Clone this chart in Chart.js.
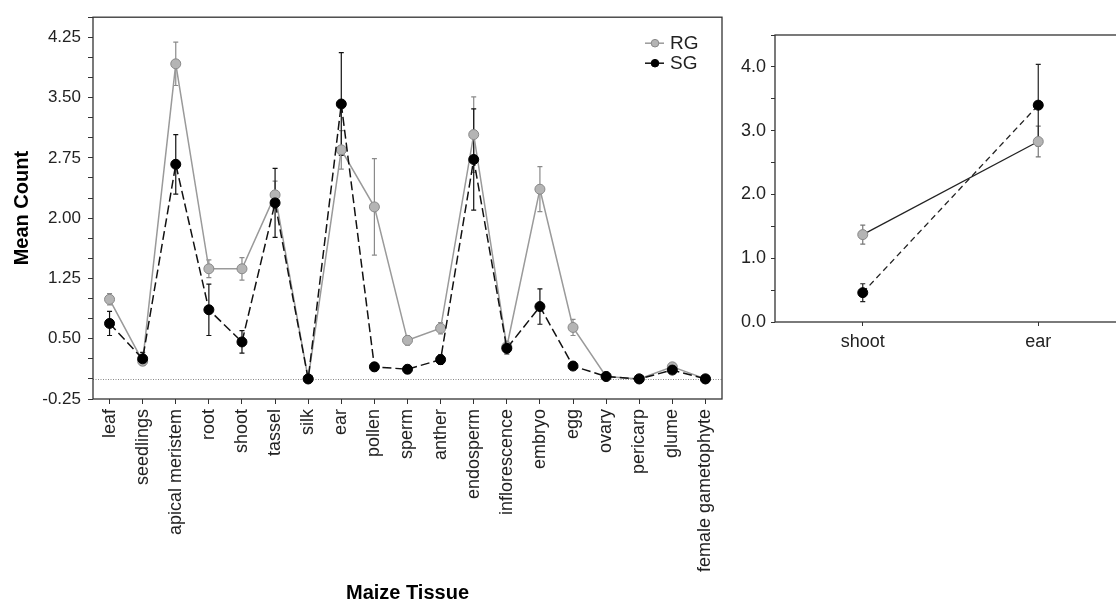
<!DOCTYPE html>
<html>
<head>
<meta charset="utf-8">
<script src="https://cdn.jsdelivr.net/npm/chart.js@4"></script>
<style>
  html, body { margin: 0; padding: 0; background: #fff; overflow: hidden; }
  body { width: 1116px; height: 605px; position: relative; }
  #main { position: absolute; left: 0; top: 0; }
  #inset { position: absolute; left: 735px; top: 0; }
</style>
</head>
<body>
<canvas id="main" width="740" height="605"></canvas>
<canvas id="inset" width="400" height="360"></canvas>
<script>
var tissues = ['leaf', 'seedlings', 'apical meristem', 'root', 'shoot', 'tassel', 'silk', 'ear', 'pollen', 'sperm',
  'anther', 'endosperm', 'inflorescence', 'embryo', 'egg', 'ovary', 'pericarp', 'glume', 'female gametophyte'];
var rgMean = [0.99, 0.22, 3.92, 1.37, 1.37, 2.29, 0.00, 2.85, 2.14, 0.48, 0.63, 3.04, 0.40, 2.36, 0.64, 0.03, 0.00, 0.15, 0.00];
var rgErr  = [0.07, 0.05, 0.27, 0.11, 0.14, 0.17, 0.00, 0.24, 0.60, 0.06, 0.07, 0.47, 0.07, 0.28, 0.10, 0.01, 0.00, 0.02, 0.00];
var sgMean = [0.69, 0.25, 2.67, 0.86, 0.46, 2.19, 0.00, 3.42, 0.15, 0.12, 0.24, 2.73, 0.38, 0.90, 0.16, 0.03, 0.00, 0.11, 0.00];
var sgErr  = [0.15, 0.08, 0.37, 0.32, 0.14, 0.43, 0.00, 0.64, 0.05, 0.05, 0.06, 0.63, 0.07, 0.22, 0.03, 0.01, 0.00, 0.03, 0.00];

var insetCats = ['shoot', 'ear'];
var insetRg = [1.37, 2.83];
var insetRgErr = [0.15, 0.24];
var insetSg = [0.46, 3.40];
var insetSgErr = [0.14, 0.64];

var FONT = "'Liberation Sans', Arial, sans-serif";
Chart.defaults.font.family = FONT;
Chart.defaults.color = '#222';

// error bars from dataset.errors, drawn under the markers
var errorBars = {
  id: 'errorBars',
  beforeDatasetsDraw: function(chart) {
    var ctx = chart.ctx, y = chart.scales.y;
    chart.data.datasets.forEach(function(ds, i) {
      var meta = chart.getDatasetMeta(i);
      ctx.save();
      ctx.strokeStyle = ds.errColor;
      ctx.lineWidth = 1.2;
      meta.data.forEach(function(pt, j) {
        var e = ds.errors[j];
        if (!e) return;
        var top = y.getPixelForValue(ds.data[j] + e);
        var bot = y.getPixelForValue(ds.data[j] - e);
        ctx.beginPath();
        ctx.moveTo(pt.x, top); ctx.lineTo(pt.x, bot);
        ctx.moveTo(pt.x - 2.5, top); ctx.lineTo(pt.x + 2.5, top);
        ctx.moveTo(pt.x - 2.5, bot); ctx.lineTo(pt.x + 2.5, bot);
        ctx.stroke();
      });
      ctx.restore();
    });
  }
};

// frame around the plot + optional dotted zero line
var frame = {
  id: 'frame',
  beforeDatasetsDraw: function(chart, args, opts) {
    var ctx = chart.ctx, a = chart.chartArea;
    ctx.save();
    if (opts.zeroLine) {
      var y0 = Math.round(chart.scales.y.getPixelForValue(0)) + 0.5;
      ctx.strokeStyle = '#888';
      ctx.setLineDash([1, 1.5]);
      ctx.lineWidth = 1;
      ctx.beginPath(); ctx.moveTo(a.left, y0); ctx.lineTo(a.right, y0); ctx.stroke();
      ctx.setLineDash([]);
    }
    ctx.strokeStyle = '#333';
    ctx.lineWidth = 1.3;
    ctx.strokeRect(a.left, a.top, a.right - a.left, a.bottom - a.top);
    ctx.restore();
  }
};

// small line+marker legend in the upper right of the plot
var lineLegend = {
  id: 'lineLegend',
  afterDatasetsDraw: function(chart, args, opts) {
    if (!opts.show) return;
    var ctx = chart.ctx, a = chart.chartArea;
    var x0 = a.right - 77, yy = a.top + 32 - 0;
    yy = a.top + 32 - 6;
    chart.data.datasets.slice().sort(function(p, q) { return q.order - p.order; }).forEach(function(ds) {
      ctx.save();
      ctx.strokeStyle = ds.borderColor;
      ctx.lineWidth = 1.5;
      ctx.beginPath(); ctx.moveTo(x0, yy); ctx.lineTo(x0 + 19, yy); ctx.stroke();
      ctx.beginPath(); ctx.arc(x0 + 10, yy, 3.8, 0, Math.PI * 2);
      ctx.fillStyle = ds.pointBackgroundColor; ctx.fill();
      ctx.strokeStyle = ds.pointBorderColor; ctx.lineWidth = 1; ctx.stroke();
      ctx.fillStyle = '#222';
      ctx.font = '19px ' + FONT;
      ctx.textBaseline = 'middle';
      ctx.fillText(ds.label, x0 + 25, yy + 1);
      ctx.restore();
      yy += 20;
    });
  }
};

function series(label, data, errs, opts) {
  return Object.assign({
    label: label, data: data, errors: errs,
    pointRadius: 5, pointBorderWidth: 1, borderWidth: 1.5,
    tension: 0, fill: false
  }, opts);
}

new Chart(document.getElementById('main'), {
  type: 'line',
  data: {
    labels: tissues,
    datasets: [
      series('RG', rgMean, rgErr, {
        borderColor: '#9a9a9a', pointBackgroundColor: '#b4b4b4', pointBorderColor: '#888',
        errColor: '#8a8a8a', order: 1
      }),
      series('SG', sgMean, sgErr, {
        borderColor: '#111', borderDash: [9, 4], pointBackgroundColor: '#000', pointBorderColor: '#000',
        errColor: '#111', order: 0
      })
    ]
  },
  options: {
    responsive: false,
    animation: false,
    layout: { padding: { top: 11, right: 18, left: 0, bottom: 0 } },
    plugins: {
      legend: { display: false },
      tooltip: { enabled: false },
      frame: { zeroLine: true },
      lineLegend: { show: true }
    },
    scales: {
      x: {
        offset: true,
        grid: { offset: false, drawOnChartArea: false, drawTicks: true, tickLength: 5, tickColor: '#333' },
        border: { display: false },
        ticks: { minRotation: 90, maxRotation: 90, autoSkip: false, padding: 5, font: { size: 18 }, color: '#222' },
        title: { display: true, text: 'Maize Tissue', font: { size: 20, weight: 'bold' }, color: '#000', padding: { top: 0, bottom: 0 } },
        afterFit: function(s) { s.height = 206; }
      },
      y: {
        min: -0.25, max: 4.5,
        grid: { drawOnChartArea: false, drawTicks: true, tickLength: 5, tickColor: '#333' },
        border: { display: false },
        ticks: {
          stepSize: 0.25, autoSkip: false, padding: 7, font: { size: 17 }, color: '#222',
          callback: function(v) {
            var k = Math.round((v + 0.25) / 0.25);
            return k % 3 === 0 ? v.toFixed(2) : '';
          }
        },
        title: { display: true, text: 'Mean Count', font: { size: 20, weight: 'bold' }, color: '#000', padding: { top: 10, bottom: 0 } },
        afterFit: function(s) { s.width = 93; }
      }
    }
  },
  plugins: [frame, errorBars, lineLegend]
});

new Chart(document.getElementById('inset'), {
  type: 'line',
  data: {
    labels: insetCats,
    datasets: [
      series('RG', insetRg, insetRgErr, {
        borderColor: '#222', borderWidth: 1.3, pointBackgroundColor: '#b4b4b4', pointBorderColor: '#888',
        errColor: '#777', order: 1
      }),
      series('SG', insetSg, insetSgErr, {
        borderColor: '#222', borderWidth: 1.3, borderDash: [6, 4], pointBackgroundColor: '#000', pointBorderColor: '#000',
        errColor: '#222', order: 0
      })
    ]
  },
  options: {
    responsive: false,
    animation: false,
    layout: { padding: { top: 35, right: 9, left: 0, bottom: 0 } },
    plugins: {
      legend: { display: false },
      tooltip: { enabled: false },
      frame: { zeroLine: false },
      lineLegend: { show: false }
    },
    scales: {
      x: {
        offset: true,
        grid: { offset: false, drawOnChartArea: false, drawTicks: true, tickLength: 4, tickColor: '#333' },
        border: { display: false },
        ticks: { maxRotation: 0, autoSkip: false, padding: 5, font: { size: 18 }, color: '#222' },
        afterFit: function(s) { s.height = 38; }
      },
      y: {
        min: 0, max: 4.5,
        grid: { drawOnChartArea: false, drawTicks: true, tickLength: 4, tickColor: '#333' },
        border: { display: false },
        ticks: {
          stepSize: 0.5, autoSkip: false, padding: 5, font: { size: 18 }, color: '#222',
          callback: function(v) {
            var k = Math.round(v / 0.5);
            return k % 2 === 0 ? v.toFixed(1) : '';
          }
        },
        afterFit: function(s) { s.width = 40; }
      }
    }
  },
  plugins: [frame, errorBars, lineLegend]
});
</script>
</body>
</html>
